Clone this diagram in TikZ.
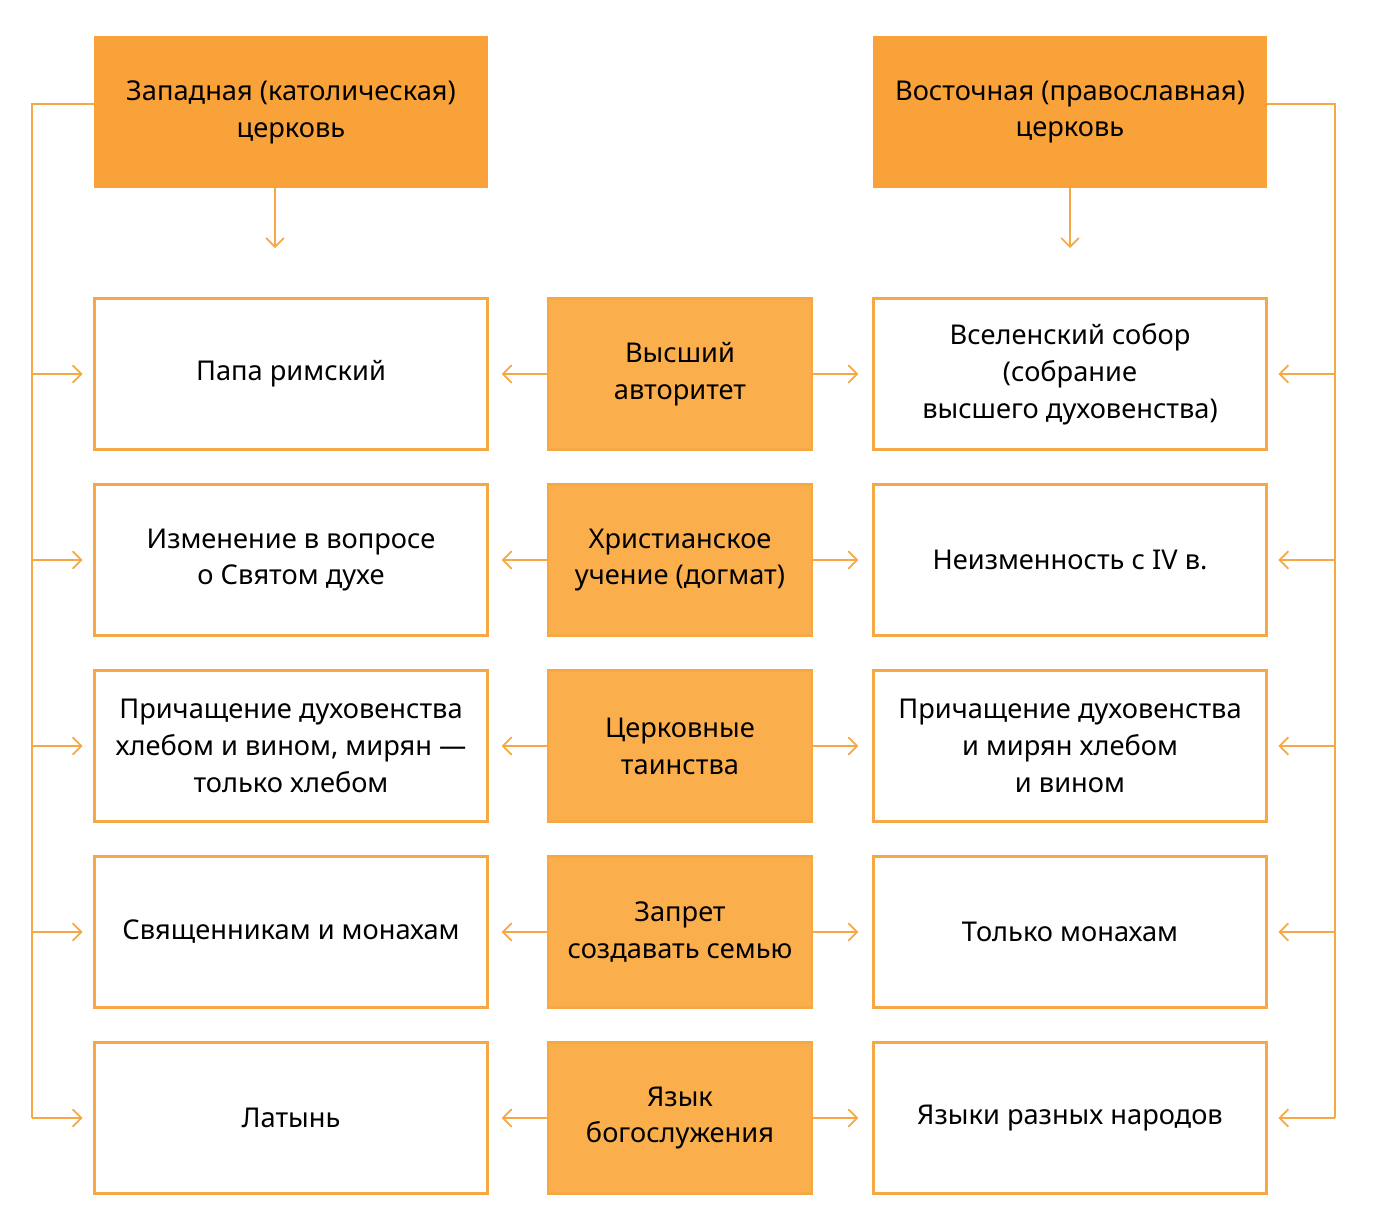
\documentclass[tikz,border=0pt]{standalone}
\usepackage{fontspec}
\setmainfont{Noto Sans}
\usetikzlibrary{arrows.meta}
\definecolor{churchor}{HTML}{F9A23A}
\definecolor{topicor}{HTML}{FBAF4C}
\definecolor{lineor}{HTML}{F6A845}
\begin{document}
\begin{tikzpicture}[x=0.02cm, y=-0.02cm]
    % Define styles
    \tikzset{
        church/.style={fill=churchor, minimum width=7.88cm, minimum height=3.04cm, font=\fontsize{15.5}{21}\selectfont\bfseries, align=center, inner sep=0pt},
        topic/.style={fill=topicor, draw=lineor, line width=1.5pt, minimum width=5.28cm, minimum height=3.02cm, font=\fontsize{15.5}{21}\selectfont\bfseries, align=center, inner sep=0pt},
        answer/.style={fill=white, draw=lineor, line width=1.5pt, minimum width=7.86cm, minimum height=3.02cm, font=\fontsize{15.5}{21}\selectfont, align=center, inner sep=0pt},
        link/.style={draw=lineor, line width=1pt, -{Straight Barb[length=5pt, width=10pt]}},
        trunk/.style={draw=lineor, line width=1pt}
    }
    \useasboundingbox (0,0) rectangle (1373,1228);

    % Church headers
    \node[church] (west) at (291,112) {Западная (католическая)\\церковь};
    \node[church] (east) at (1070,112) {Восточная (православная)\\церковь};
    \coordinate (westdown) at (275,248);
    \coordinate (eastdown) at (1070,248);
    \draw[link] (westdown |- west.south) -- (westdown);
    \draw[link] (eastdown |- east.south) -- (eastdown);

    % Rows
    \foreach \i/\y/\t/\w/\e in {
        1/374/{Высший\\авторитет}/{Папа римский}/{Вселенский собор\\(собрание\\высшего духовенства)},
        2/560/{Христианское\\учение (догмат)}/{Изменение в вопросе\\о Святом духе}/{Неизменность с IV в.},
        3/746/{Церковные\\таинства}/{Причащение духовенства\\хлебом и вином, мирян —\\только хлебом}/{Причащение духовенства\\и мирян хлебом\\и вином},
        4/932/{Запрет\\создавать семью}/{Священникам и монахам}/{Только монахам},
        5/1118/{Язык\\богослужения}/{Латынь}/{Языки разных народов}} {
        \node[topic] (topic\i) at (680,\y) {\t};
        \node[answer] (wans\i) at (291,\y) {\w};
        \node[answer] (eans\i) at (1070,\y) {\e};
        \draw[link] (topic\i.west) -- ++(-45,0);
        \draw[link] (topic\i.east) -- ++(45,0);
        \draw[link] (32,\y) -- ([xshift=-6]wans\i.west);
        \draw[link] (1335,\y) -- ([xshift=6]eans\i.east);
    }

    % Side trunks
    \draw[trunk] (west.west |- 0,104) -- (32,104) -- (32,1118);
    \draw[trunk] (east.east |- 0,104) -- (1335,104) -- (1335,1118);
\end{tikzpicture}
\end{document}
